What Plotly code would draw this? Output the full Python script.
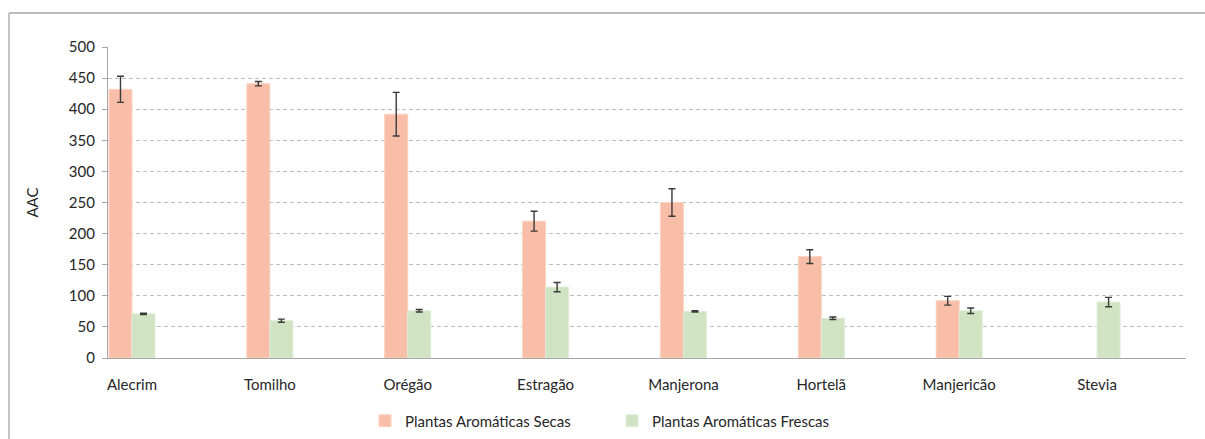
import plotly.graph_objects as go

# Categories (aromatic plants) and AAC values with their error margins
plantas = ["Alecrim", "Tomilho", "Orégão", "Estragão", "Manjerona", "Hortelã", "Manjericão", "Stevia"]
secas = [432, 441, 392, 220, 250, 163, 92, None]
secas_erro = [21, 3.5, 35, 16, 22, 11, 7, 0]
frescas = [71, 60, 76, 114, 75, 64, 76, 90]
frescas_erro = [1, 2.5, 2, 7.5, 1, 2, 4.5, 7.5]
y_ticks = [0, 50, 100, 150, 200, 250, 300, 350, 400, 450, 500]

FONT = "Lato, 'Open Sans', sans-serif"
FS = 15
TXT = "#262626"
ERR = dict(type="data", visible=True, color="#3a3a3a", thickness=1.4, width=3.5)

fig = go.Figure()
fig.add_trace(go.Bar(
    name="Plantas Aromáticas Secas", x=plantas, y=secas,
    error_y=dict(array=secas_erro, **ERR),
    marker=dict(color="#F8BEA8", line=dict(color="#FBD3C3", width=1)),
))
fig.add_trace(go.Bar(
    name="Plantas Aromáticas Frescas", x=plantas, y=frescas,
    error_y=dict(array=frescas_erro, **ERR),
    marker=dict(color="#D0E4C4", line=dict(color="#E0EDD8", width=1)),
))

# plot area: left 108 px, right 1186 px, top 47 px, bottom 358 px
L, R, T, B = 108, 1186, 47, 358
W, H = R - L, B - T


def px_x(p):
    return (p - L) / W


def px_y(p):
    return (B - p) / H


fig.update_layout(
    width=1205, height=439,
    margin=dict(l=L, r=1205 - R, t=T, b=439 - B, autoexpand=False),
    paper_bgcolor="white", plot_bgcolor="white",
    barmode="group", bargap=0.666, bargroupgap=0,
    font=dict(family=FONT, size=FS, color=TXT),
    showlegend=True,
    legend=dict(
        orientation="h", x=px_x(365), xanchor="left", y=px_y(421), yanchor="middle",
        font=dict(family=FONT, size=FS, color=TXT),
        entrywidth=202, entrywidthmode="pixels", itemwidth=30,
        bgcolor="rgba(0,0,0,0)",
    ),
    xaxis=dict(
        type="category", range=[-0.174, 7.645],
        showgrid=False, zeroline=False,
        showline=True, linecolor="#A6A6A6", linewidth=1.3,
        ticks="", ticklabelstandoff=13,
        tickfont=dict(family=FONT, size=FS, color=TXT),
    ),
    yaxis=dict(
        range=[0, 500], tickvals=y_ticks,
        showgrid=True, gridcolor="#BDBDBD", gridwidth=1, griddash="4px,3px",
        zeroline=False,
        showline=True, linecolor="#A6A6A6", linewidth=1.3,
        ticks="outside", ticklen=5, tickcolor="#A6A6A6", ticklabelstandoff=4,
        tickfont=dict(family=FONT, size=FS, color=TXT),
        title=dict(text="AAC", font=dict(family=FONT, size=FS, color=TXT), standoff=26),
        automargin=False,
    ),
    shapes=[
        # outer chart border (top and left edges)
        dict(type="line", xref="paper", yref="paper",
             x0=px_x(9), x1=px_x(1205), y0=px_y(13), y1=px_y(13),
             line=dict(color="#A6A6A6", width=1.3)),
        dict(type="line", xref="paper", yref="paper",
             x0=px_x(9), x1=px_x(9), y0=px_y(13), y1=px_y(440),
             line=dict(color="#A6A6A6", width=1.3)),
    ],
)

fig.write_html("out.html")
